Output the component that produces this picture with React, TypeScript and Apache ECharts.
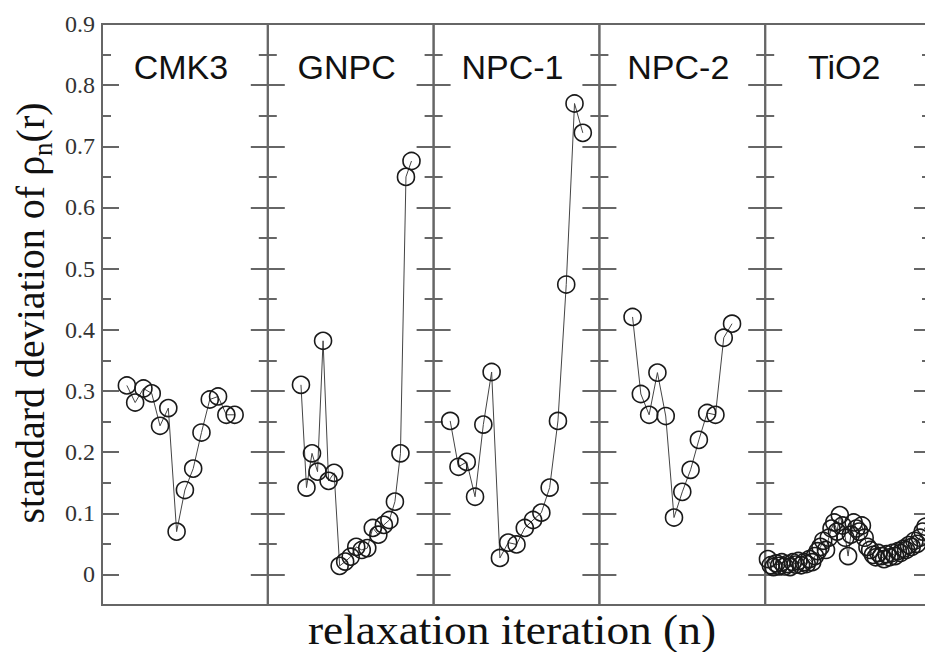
import React, { useEffect, useRef } from "react";
import * as echarts from "echarts";

// ---- data ----
const panelNames = ["CMK3", "GNPC", "NPC-1", "NPC-2", "TiO2"];
const panelXMax = [20, 30, 20, 20, 60];
const panelStart = [3, 6, 2, 4, 1];

const cmk3 = [0.309, 0.281, 0.304, 0.296, 0.243, 0.272, 0.070, 0.138, 0.173, 0.232, 0.286, 0.291, 0.261, 0.261];
const gnpc = [0.310, 0.142, 0.198, 0.168, 0.382, 0.153, 0.166, 0.014, 0.021, 0.029, 0.045, 0.040, 0.043, 0.076, 0.065, 0.081, 0.089, 0.119, 0.198, 0.650, 0.676];
const npc1 = [0.251, 0.176, 0.184, 0.127, 0.245, 0.331, 0.027, 0.052, 0.049, 0.076, 0.089, 0.101, 0.142, 0.251, 0.474, 0.770, 0.722];
const npc2 = [0.421, 0.295, 0.261, 0.330, 0.259, 0.093, 0.135, 0.171, 0.220, 0.264, 0.261, 0.387, 0.410];
const tio2 = [
  0.025, 0.015, 0.012, 0.018, 0.014, 0.020, 0.013, 0.017, 0.012, 0.020,
  0.016, 0.022, 0.015, 0.020, 0.017, 0.025, 0.020, 0.030, 0.038, 0.045,
  0.055, 0.040, 0.060, 0.075, 0.085, 0.070, 0.097, 0.080, 0.060, 0.030,
  0.065, 0.085, 0.075, 0.070, 0.080, 0.060, 0.045, 0.040, 0.032, 0.028,
  0.035, 0.030, 0.025, 0.033, 0.028, 0.035, 0.030, 0.038, 0.035, 0.042,
  0.040, 0.048, 0.045, 0.055, 0.050, 0.060, 0.070, 0.078,
];
const panelValues = [cmk3, gnpc, npc1, npc2, tio2];

const yMajorTicks = [0, 0.1, 0.2, 0.3, 0.4, 0.5, 0.6, 0.7, 0.8, 0.9];
const yMinorTicks = [0.05, 0.15, 0.25, 0.35, 0.45, 0.55, 0.65, 0.75, 0.85];
const yMin = -0.05;
const yMax = 0.9;

const yTitleMain = "standard deviation of ρ";
const yTitleSub = "n";
const yTitleEnd = "(r)";
const xTitle = "relaxation iteration (n)";

// ---- layout ----
const GRID_LEFT = 102;
const PANEL_W = 165.8;
const GRID_TOP = 24;
const GRID_H = 581;
const FRAME = "#666";

function measure(text: string, font: string): number {
  const c = document.createElement("canvas").getContext("2d");
  if (!c) return text.length * 18;
  c.font = font;
  return c.measureText(text).width;
}

export default function App() {
  const ref = useRef<HTMLDivElement>(null);
  useEffect(() => {
    if (!ref.current) return;
    const chart = echarts.init(ref.current, undefined, { renderer: "svg" });

    const grids: any[] = [];
    const xAxes: any[] = [];
    const yAxes: any[] = [];
    const series: any[] = [];
    const graphics: any[] = [];

    panelNames.forEach((name, i) => {
      const left = GRID_LEFT + i * PANEL_W;
      grids.push({
        left,
        top: GRID_TOP,
        width: PANEL_W,
        height: GRID_H,
        show: true,
        borderColor: FRAME,
        borderWidth: 2,
        backgroundColor: "transparent",
      });
      xAxes.push({
        gridIndex: i,
        type: "value",
        min: 0,
        max: panelXMax[i],
        show: false,
      });
      const mkY = (pos: string, ticks: number[], len: number, labels: boolean) => ({
        gridIndex: i,
        type: "value",
        min: yMin,
        max: yMax,
        position: pos,
        axisLine: { show: false },
        splitLine: { show: false },
        axisTick: {
          show: true,
          inside: true,
          length: len,
          customValues: ticks,
          lineStyle: { color: FRAME, width: 2 },
        },
        axisLabel: {
          show: labels,
          customValues: ticks,
          formatter: (v: number) => (Math.abs(v) < 1e-9 ? "0" : v.toFixed(1)),
          fontFamily: "Liberation Serif",
          fontSize: 24,
          color: "#333",
          margin: 7,
        },
      });
      const base = yAxes.length;
      yAxes.push(mkY("left", yMajorTicks, 17, i === 0));
      yAxes.push(mkY("left", yMinorTicks, 9, false));
      yAxes.push(mkY("right", yMajorTicks, 17, false));
      yAxes.push(mkY("right", yMinorTicks, 9, false));

      const vals = panelValues[i];
      series.push({
        type: "line",
        xAxisIndex: i,
        yAxisIndex: base,
        data: vals.map((v, k) => [panelStart[i] + k, v]),
        symbol: "circle",
        symbolSize: 17,
        showSymbol: true,
        lineStyle: { color: "#444", width: 1 },
        itemStyle: { color: "transparent", borderColor: "#1a1a1a", borderWidth: 1.6 },
        z: 3,
      });

      graphics.push({
        type: "text",
        x: left + PANEL_W / 2 - 4,
        y: 67,
        style: {
          text: name,
          fontFamily: "Liberation Sans",
          fontSize: 34,
          fill: "#111",
          align: "center",
          verticalAlign: "middle",
        },
      });
    });

    // y-axis title with subscript
    const mainFont = "40px 'Liberation Serif'";
    const subFont = "27px 'Liberation Serif'";
    const w1 = measure(yTitleMain, mainFont);
    const w2 = measure(yTitleSub, subFont);
    const w3 = measure(yTitleEnd, mainFont);
    const W = w1 + w2 + w3;
    const start = -W / 2;
    graphics.push({
      type: "group",
      x: 30,
      y: 313,
      rotation: Math.PI / 2,
      children: [
        {
          type: "text",
          x: start,
          y: 0,
          style: { text: yTitleMain, fontFamily: "Liberation Serif", fontSize: 40, fill: "#111", align: "left", verticalAlign: "middle" },
        },
        {
          type: "text",
          x: start + w1,
          y: 13,
          style: { text: yTitleSub, fontFamily: "Liberation Serif", fontSize: 27, fill: "#111", align: "left", verticalAlign: "middle" },
        },
        {
          type: "text",
          x: start + w1 + w2,
          y: 0,
          style: { text: yTitleEnd, fontFamily: "Liberation Serif", fontSize: 40, fill: "#111", align: "left", verticalAlign: "middle" },
        },
      ],
    });

    graphics.push({
      type: "text",
      x: 512,
      y: 630,
      scaleX: 1.08,
      style: {
        text: xTitle,
        fontFamily: "Liberation Serif",
        fontSize: 42,
        fill: "#111",
        align: "center",
        verticalAlign: "middle",
      },
    });

    chart.setOption({
      animation: false,
      backgroundColor: "#fff",
      grid: grids,
      xAxis: xAxes,
      yAxis: yAxes,
      series,
      graphic: graphics,
    });
    return () => chart.dispose();
  }, []);

  return (
    <div style={{ position: "fixed", left: 0, top: 0, width: 925, height: 652, overflow: "hidden", background: "#fff" }}>
      <div ref={ref} style={{ width: 945, height: 652 }} />
    </div>
  );
}
